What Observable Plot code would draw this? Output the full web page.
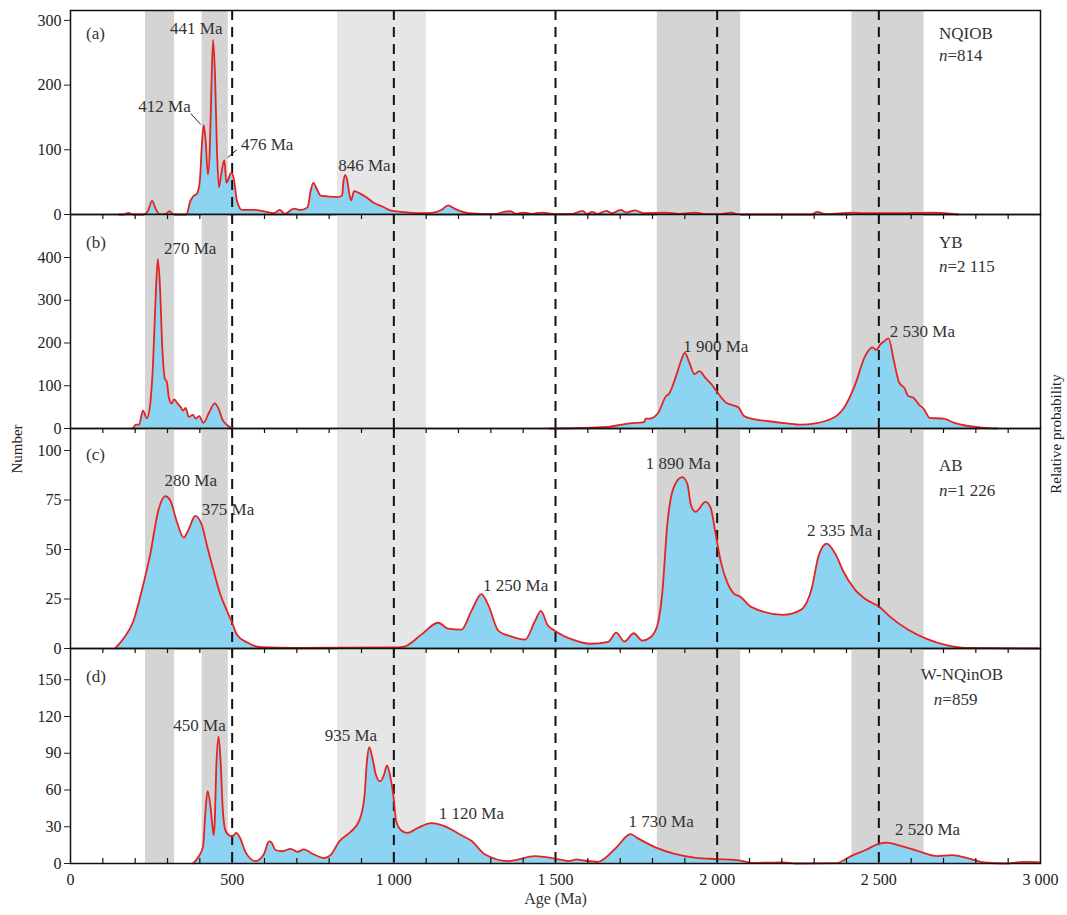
<!DOCTYPE html>
<html>
<head>
<meta charset="utf-8">
<script src="https://cdn.jsdelivr.net/npm/d3@7"></script>
<script src="https://cdn.jsdelivr.net/npm/@observablehq/plot@0.6"></script>
<style>
  html, body { margin: 0; padding: 0; background: #fff; overflow: hidden; }
  #chart { position: relative; width: 1067px; height: 915px; font-family: "Liberation Serif", "Times New Roman", serif; color: #222; }
  #chart svg { position: absolute; left: 0; overflow: visible; }
  .vtitle { position: absolute; white-space: nowrap; font-family: "Liberation Serif", serif; color: #222; transform-origin: center center; line-height: 16px; }
</style>
</head>
<body>
<div id="chart"></div>
<script>
// ---------- data ----------
const ageTicks = [0, 500, 1000, 1500, 2000, 2500, 3000];
const minorTicks = [100,200,300,400,500,600,700,800,900,1000,1100,1200,1300,1400,1500,1600,1700,1800,1900,2000,2100,2200,2300,2400,2500,2600,2700,2800,2900];
const dashedAges = [500, 1000, 1500, 2000, 2500];
const bands = [
  {x1: 232, x2: 322, shade: "dark"},
  {x1: 407, x2: 488, shade: "dark"},
  {x1: 826, x2: 1100, shade: "light"},
  {x1: 1815, x2: 2073, shade: "dark"},
  {x1: 2417, x2: 2640, shade: "dark"}
];

// (a) NQIOB
const seriesA = [[150,0],[164,0],[179,2.5],[195,0],[225,0],[240,6],[252,21],[264,8],[277,0],[295,1],[306,5],[318,0],[358,0],[371,21],[381,29],[391,32],[400,52],[407,113],[412,138],[418,113],[425,62],[431,103],[436,200],[441,270],[447,215],[453,98],[459,42],[466,62],[476,84],[482,49],[490,57],[497,65],[505,55],[515,21],[531,7],[567,7],[598,5],[629,2],[647,7],[663,1],[691,9],[712,7],[733,11],[743,37],[751,49],[762,39],[774,29],[795,28],[826,27],[840,29],[844,50],[849,61],[855,55],[862,33],[868,22],[877,36],[893,33],[914,27],[935,19],[966,12],[992,6],[1023,4],[1085,2],[1116,2.5],[1147,7],[1168,14],[1188,9],[1230,2],[1313,0.5],[1340,4],[1359,5],[1380,1],[1400,3],[1426,1],[1458,3],[1500,0.5],[1553,1],[1584,5.5],[1597,1],[1614,4],[1630,1],[1658,5.5],[1674,2],[1702,7],[1719,3],[1746,6.5],[1774,2],[1840,3],[1884,1],[1934,3],[1961,0.5],[2005,0.5],[2044,3],[2066,0],[2292,0],[2309,4],[2337,0.5],[2419,3],[2447,2],[2480,2],[2546,2],[2668,3],[2745,0]];
// (b) YB  (null = gap in the curve)
const seriesB = [[193,0],[203,9],[212,9],[224,42],[236,24],[246,54],[255,148],[263,300],[270,396],[276,343],[284,187],[292,116],[298,109],[304,73],[313,58],[320,68],[330,60],[341,50],[348,42],[356,48],[366,27],[379,32],[387,23],[398,29],[411,13],[429,38],[446,59],[458,46],[470,21],[486,7],[500,0],[990,null],[1481,0],[1663,4],[1696,8],[1730,12],[1774,15],[1779,23],[1790,23],[1818,37],[1842,76],[1851,81],[1873,123],[1890,162],[1900,177],[1914,154],[1930,127],[1945,134],[1965,117],[1983,103],[2005,80],[2028,60],[2050,54],[2066,49],[2083,29],[2105,23],[2160,17],[2215,12],[2259,9],[2304,12],[2348,21],[2370,30],[2392,48],[2425,99],[2458,170],[2480,190],[2492,184],[2505,197],[2518,205],[2530,211],[2546,160],[2563,107],[2579,95],[2591,76],[2607,72],[2624,56],[2640,45],[2657,25],[2701,23],[2734,13],[2767,7],[2822,2],[2866,0]];
// (c) AB
const seriesC = [[138,0],[164,5],[195,14],[220,29],[246,47],[272,70],[293,77],[308,75],[329,64],[350,56],[365,60],[386,67],[407,62],[422,52],[443,39],[464,27],[484,19],[500,13],[515,7],[547,3],[588,0.7],[691,0.3],[1002,0.5],[1033,1],[1085,7],[1137,13],[1168,10],[1209,9.5],[1240,19],[1271,27.5],[1292,22],[1323,9],[1364,6],[1406,4.5],[1437,14],[1455,19],[1475,12],[1498,9],[1553,4.5],[1608,2.4],[1663,3.4],[1688,8],[1713,3.5],[1742,7.7],[1768,4],[1794,5.7],[1815,11.6],[1830,27.7],[1846,63],[1866,81.5],[1892,86.5],[1908,83],[1918,73],[1933,69],[1964,74],[1980,71],[1995,58],[2011,44],[2032,33],[2050,28],[2073,26],[2105,21],[2204,17],[2259,19.5],[2292,30],[2314,47],[2339,53],[2368,47],[2390,39],[2425,30],[2458,25],[2502,21],[2535,16],[2591,9.5],[2646,5],[2712,1.6],[2767,0.3],[2993,0]];
// (d) W-NQinOB
const seriesD = [[379,0],[396,5.5],[410,14],[417,41],[424,59],[433,46],[438,33],[443,23],[446,33],[451,79],[458,103.5],[464,84],[471,44],[479,27],[490,23],[500,22],[513,25],[526,20],[541,9.5],[572,2],[598,7.6],[614,18],[622,17],[634,11],[655,10],[681,12],[702,9.5],[722,11.5],[748,8],[785,4.4],[805,7],[831,18],[867,26],[893,35],[909,54.5],[917,84],[924,95],[933,87],[945,72],[958,67],[969,72],[979,80],[989,71],[999,54.5],[1007,35],[1023,27],[1043,25],[1074,29],[1116,33],[1157,30.5],[1209,23],[1240,18.5],[1281,7.6],[1354,2],[1437,6],[1499,4],[1542,2],[1565,3.3],[1587,2.5],[1632,1.4],[1643,2.5],[1688,13],[1732,24],[1755,20.5],[1811,13],[1866,8],[1934,4.6],[2000,3.6],[2068,2.5],[2112,0.5],[2202,1],[2246,0],[2369,0.3],[2414,6],[2459,11],[2500,16],[2526,17],[2559,15],[2615,10.7],[2682,6],[2727,6.8],[2771,4.6],[2827,0.8],[2894,0],[2950,1.4],[3000,1]];

const yTicksA = [0, 100, 200, 300];
const yTicksB = [0, 100, 200, 300, 400];
const yTicksC = [0, 25, 50, 75, 100];
const yTicksD = [0, 30, 60, 90, 120, 150];

// peak labels: text, age (Ma), number, anchor
const peaksA = [
  {text: "441 Ma", age: 389, value: 287, anchor: "middle"},
  {text: "412 Ma", age: 372, value: 167, anchor: "end"},
  {text: "476 Ma", age: 527, value: 108, anchor: "start"},
  {text: "846 Ma", age: 909, value: 76, anchor: "middle"}
];
const leadersA = [
  {x1: 372, y1: 156, x2: 403, y2: 139},
  {x1: 514, y1: 100, x2: 486, y2: 88}
];
const peaksB = [
  {text: "270 Ma", age: 370, value: 420, anchor: "middle"},
  {text: "1 900 Ma", age: 1895, value: 192, anchor: "start"},
  {text: "2 530 Ma", age: 2534, value: 227, anchor: "start"}
];
const peaksC = [
  {text: "280 Ma", age: 372, value: 85, anchor: "middle"},
  {text: "375 Ma", age: 406, value: 70, anchor: "start"},
  {text: "1 250 Ma", age: 1276, value: 32, anchor: "start"},
  {text: "1 890 Ma", age: 1779, value: 93.5, anchor: "start"},
  {text: "2 335 Ma", age: 2278, value: 59.6, anchor: "start"}
];
const peaksD = [
  {text: "450 Ma", age: 318, value: 112.6, anchor: "start"},
  {text: "935 Ma", age: 786, value: 104.5, anchor: "start"},
  {text: "1 120 Ma", age: 1139, value: 41, anchor: "start"},
  {text: "1 730 Ma", age: 1726, value: 34, anchor: "start"},
  {text: "2 520 Ma", age: 2550, value: 28, anchor: "start"}
];

const panels = [
  {letter: "(a)", letterY: 280, name: "NQIOB", nText: "=814", nameAge: 2686, nameY: 280, nAge: 2686, nY: 246,
   series: seriesA, yMax: 315.3, yTicks: yTicksA, peaks: peaksA, leaders: leadersA, top: 10, h: 204},
  {letter: "(b)", letterY: 436, name: "YB", nText: "=2 115", nameAge: 2686, nameY: 436, nAge: 2686, nY: 379,
   series: seriesB, yMax: 500.6, yTicks: yTicksB, peaks: peaksB, leaders: [], top: 214, h: 214},
  {letter: "(c)", letterY: 98, name: "AB", nText: "=1 226", nameAge: 2686, nameY: 92.4, nAge: 2686, nY: 79.8,
   series: seriesC, yMax: 111.1, yTicks: yTicksC, peaks: peaksC, leaders: [], top: 428, h: 220},
  {letter: "(d)", letterY: 153, name: "W-NQinOB", nText: "=859", nameAge: 2630, nameY: 154, nAge: 2670, nY: 134,
   series: seriesD, yMax: 175.5, yTicks: yTicksD, peaks: peaksD, leaders: [], top: 648, h: 215}
];

// ---------- drawing ----------
const fmt = v => v >= 1000 ? `${Math.floor(v / 1000)} ${String(v % 1000).padStart(3, "0")}` : `${v}`;
const shadeColor = {dark: "#d4d4d4", light: "#e6e6e6"};
const chart = document.getElementById("chart");
const MT = 12;
const labelFont = 17;

panels.forEach((p, i) => {
  const last = i === panels.length - 1;
  const MB = last ? 60 : 12;
  const anchors = ["start", "middle", "end"];
  const marks = [
    Plot.rect(bands, {x1: "x1", x2: "x2", fill: d => shadeColor[d.shade]}),
    Plot.areaY(p.series, {x: d => d[0], y: d => d[1], fill: "#8dd4f3", curve: "monotone-x"}),
    Plot.ruleX(dashedAges, {stroke: "#111", strokeWidth: 2, strokeDasharray: "10,7"}),
    Plot.lineY(p.series, {x: d => d[0], y: d => d[1], stroke: "#e8231f", strokeWidth: 1.8, curve: "monotone-x"}),
    Plot.frame({stroke: "#111", strokeWidth: 1.5}),
    Plot.axisY({ticks: p.yTicks, tickSize: 6, tickPadding: 3, tickFormat: fmt, label: null, fontSize: 16}),
    Plot.text([p.letter], {x: 48, y: p.letterY, textAnchor: "start", fontSize: labelFont, fill: "#333"}),
    Plot.text([p.name], {x: p.nameAge, y: p.nameY, textAnchor: "start", fontSize: labelFont, fill: "#333"}),
    Plot.text(["n"], {x: p.nAge, y: p.nY, textAnchor: "start", fontSize: labelFont, fontStyle: "italic", fill: "#333"}),
    Plot.text([p.nText], {x: p.nAge, y: p.nY, dx: 8.5, textAnchor: "start", fontSize: labelFont, fill: "#333"})
  ];
  anchors.forEach(a => {
    const sub = p.peaks.filter(d => d.anchor === a);
    if (sub.length) marks.push(Plot.text(sub, {x: "age", y: "value", text: "text", textAnchor: a, fontSize: labelFont, fill: "#333"}));
  });
  if (p.leaders.length) marks.push(Plot.link(p.leaders, {x1: "x1", y1: "y1", x2: "x2", y2: "y2", stroke: "#222", strokeWidth: 1}));
  if (i > 0) marks.push(Plot.tickX(minorTicks, {x: d => d, insetBottom: p.h - 5, stroke: "#111", strokeWidth: 1.2}));
  if (last) {
    marks.push(Plot.tickX(minorTicks, {x: d => d, insetTop: p.h - 5, stroke: "#111", strokeWidth: 1.2}));
    marks.push(Plot.axisX({ticks: ageTicks, tickSize: 0, tickPadding: 10, tickFormat: fmt, label: null, fontSize: 16}));
    marks.push(Plot.text(["Age (Ma)"], {frameAnchor: "bottom", dy: 40, fontSize: 16, fill: "#333"}));
  }
  const svg = Plot.plot({
    width: 1067,
    height: p.h + MT + MB,
    marginLeft: 70,
    marginRight: 27,
    marginTop: MT,
    marginBottom: MB,
    x: {domain: [0, 3000], axis: last ? undefined : null},
    y: {domain: [0, p.yMax]},
    style: {background: "transparent", fontFamily: "'Liberation Serif', 'Times New Roman', serif", fontSize: "16px", color: "#222", overflow: "visible"},
    marks
  });
  svg.style.top = (p.top - MT) + "px";
  chart.appendChild(svg);
});

// axis titles (outside the plots)
const num = document.createElement("div");
num.className = "vtitle";
num.textContent = "Number";
num.style.fontSize = "15px";
num.style.left = "-9px";
num.style.top = "441px";
num.style.width = "52px";
num.style.textAlign = "center";
num.style.transform = "rotate(-90deg)";
chart.appendChild(num);

const rp = document.createElement("div");
rp.className = "vtitle";
rp.textContent = "Relative probability";
rp.style.fontSize = "15px";
rp.style.left = "988px";
rp.style.top = "426px";
rp.style.width = "136px";
rp.style.textAlign = "center";
rp.style.transform = "rotate(-90deg)";
chart.appendChild(rp);
</script>
</body>
</html>
